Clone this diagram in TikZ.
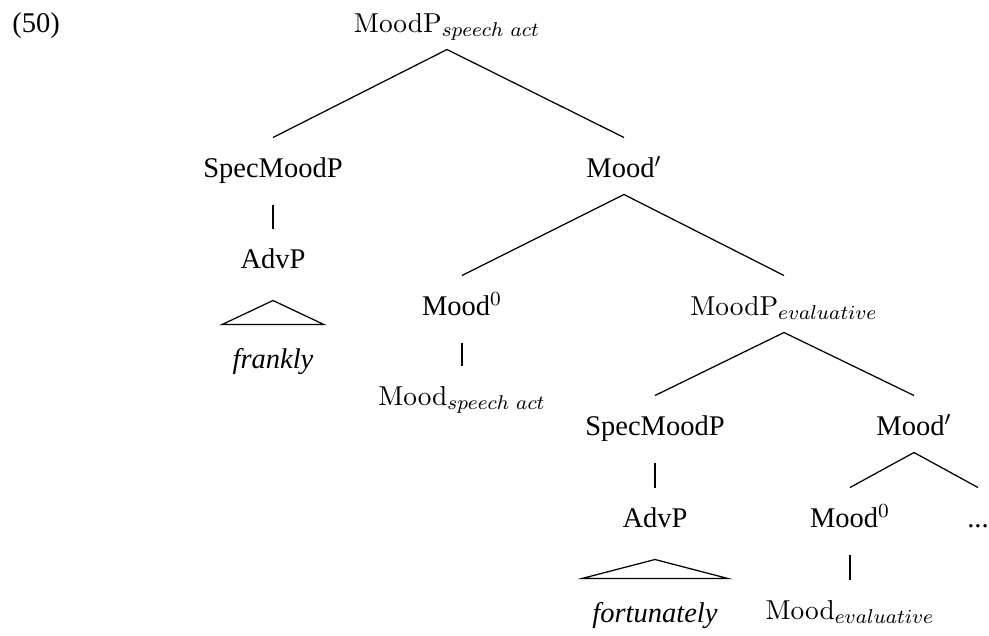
\documentclass[tikz,border=0pt]{standalone}
\usepackage[no-math]{fontspec}
\setmainfont{Liberation Serif}
\begin{document}
\begin{tikzpicture}[x=0.4pt,y=-0.4pt]
        \useasboundingbox (0,0) rectangle (989,635);
        \begin{scope}[every node/.style={anchor=base,inner sep=0pt,text height=15.6pt,text depth=6.8pt,font=\fontsize{11.4}{13}\selectfont},
                      leaf/.style={inner xsep=4pt,text height=17.2pt}]
        \node[anchor=base west] (ex) at (12,32) {(50)};
        \node (top) at (447,32) {$\mathrm{MoodP}_{speech\ act}$};
        \node (specA) at (273,177) {SpecMoodP};
        \node (barA) at (624,177) {Mood$'$};
        \node (advA) at (273,268) {AdvP};
        \node[leaf] (frA) at (273,368) {\itshape frankly};
        \node (headA) at (462,315) {Mood$^0$};
        \node (catA) at (462,405) {$\mathrm{Mood}_{speech\ act}$};
        \node (evalP) at (784,315) {$\mathrm{MoodP}_{evaluative}$};
        \node (specB) at (655,435) {SpecMoodP};
        \node (barB) at (914,435) {Mood$'$};
        \node (advB) at (655,527) {AdvP};
        \node[leaf] (frB) at (655,622) {\itshape fortunately};
        \node (headB) at (850,527) {Mood$^0$};
        \node (dots) at (978,527) {...};
        \node (catB) at (850,619) {$\mathrm{Mood}_{evaluative}$};
        \end{scope}
        \begin{scope}[every edge/.style={draw=black,line width=0.5pt},unary/.style={shorten <=4pt}]
        \path (top.south) edge (specA.north)
              (top.south) edge (barA.north)
              (barA.south) edge (headA.north)
              (barA.south) edge (evalP.north)
              (evalP.south) edge (specB.north)
              (evalP.south) edge (barB.north)
              (barB.south) edge (headB.north)
              (barB.south) edge (dots.north)
              (specA.south) edge[unary] (advA.north)
              (headA.south) edge[unary] (catA.north)
              (specB.south) edge[unary] (advB.north)
              (headB.south) edge[unary] (catB.north);
        \draw[line width=0.5pt] ([yshift=-6pt]advA.south) -- (frA.north west) -- (frA.north east) -- cycle;
        \draw[line width=0.5pt] ([yshift=-6pt]advB.south) -- (frB.north west) -- (frB.north east) -- cycle;
        \end{scope}
        \end{tikzpicture}
\end{document}
